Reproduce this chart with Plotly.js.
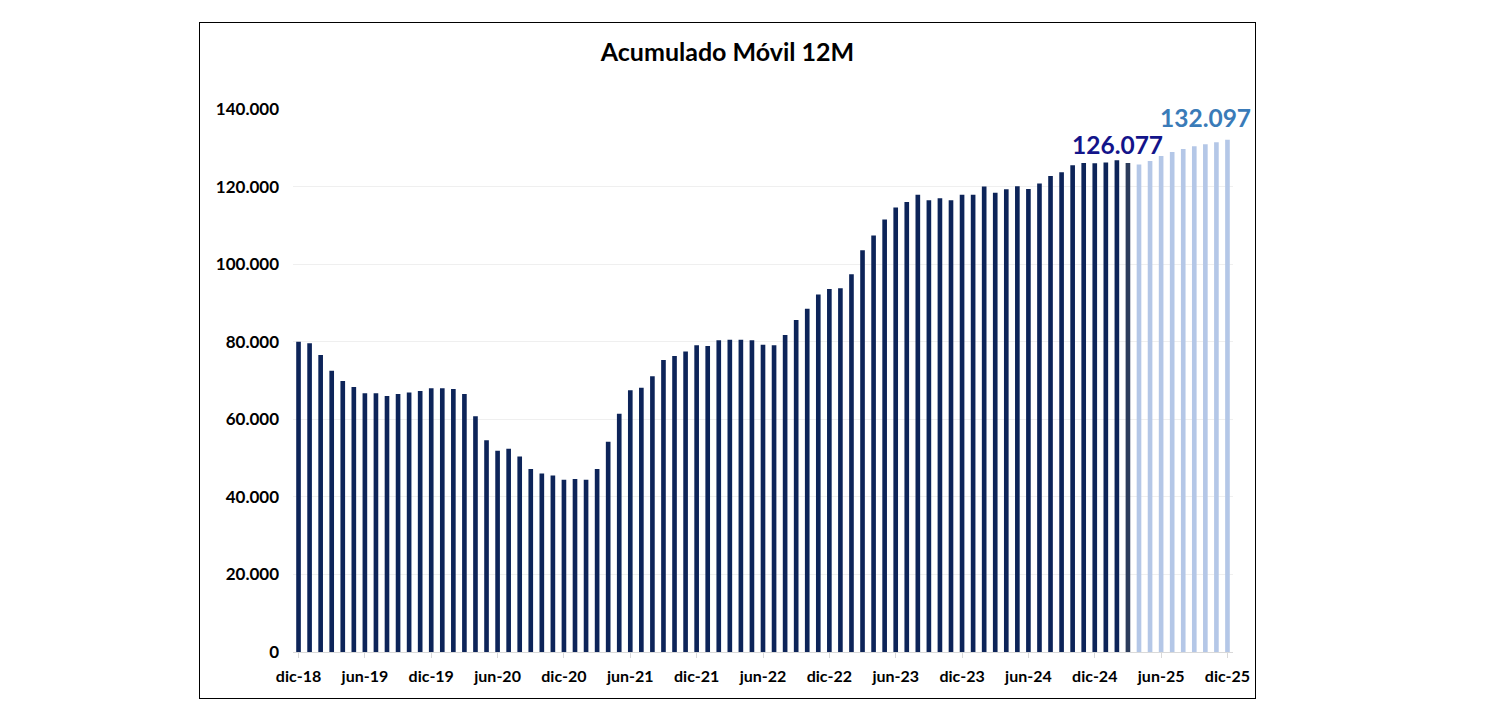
<!DOCTYPE html>
<html>
<head>
<meta charset="utf-8">
<script src="https://cdn.plot.ly/plotly-3.0.1.min.js"></script>
<style>
  html, body { margin: 0; padding: 0; background: #ffffff; }
  #frame { position: absolute; left: 199px; top: 22px; width: 1055px; height: 675px; border: 1px solid #000000; }
  #chart { width: 1055px; height: 675px; }
</style>
</head>
<body>
<div id="frame"><div id="chart"></div></div>
<script>
const months = [
  "dic-18",
  "ene-19","feb-19","mar-19","abr-19","may-19","jun-19","jul-19","ago-19","sep-19","oct-19","nov-19","dic-19",
  "ene-20","feb-20","mar-20","abr-20","may-20","jun-20","jul-20","ago-20","sep-20","oct-20","nov-20","dic-20",
  "ene-21","feb-21","mar-21","abr-21","may-21","jun-21","jul-21","ago-21","sep-21","oct-21","nov-21","dic-21",
  "ene-22","feb-22","mar-22","abr-22","may-22","jun-22","jul-22","ago-22","sep-22","oct-22","nov-22","dic-22",
  "ene-23","feb-23","mar-23","abr-23","may-23","jun-23","jul-23","ago-23","sep-23","oct-23","nov-23","dic-23",
  "ene-24","feb-24","mar-24","abr-24","may-24","jun-24","jul-24","ago-24","sep-24","oct-24","nov-24","dic-24",
  "ene-25","feb-25","mar-25","abr-25","may-25","jun-25","jul-25","ago-25","sep-25","oct-25","nov-25","dic-25"
];

// Actual 12-month rolling totals (dic-18 .. mar-25)
const actual = [
  80000,
  79600, 76600, 72500, 69900, 68300, 66700, 66700, 66000, 66500, 66900, 67300, 68000,
  68000, 67800, 66500, 60800, 54600, 51900, 52400, 50400, 47200, 46000, 45500, 44400,
  44600, 44400, 47200, 54200, 61400, 67500, 68100, 71100, 75300, 76300, 77500, 79100,
  78900, 80400, 80500, 80500, 80400, 79200, 79100, 81700, 85600, 88500, 92200, 93600,
  93800, 97400, 103600, 107400, 111500, 114600, 116000, 117900, 116500, 117000, 116500, 117900,
  117900, 120000, 118400, 119300, 120100, 119400, 120800, 122700, 123700, 125500, 126100, 126000,
  126200, 126800, 126077
];

// Projection (abr-25 .. dic-25)
const projected = [125700, 126600, 127900, 128900, 129700, 130400, 130900, 131400, 132097];

const tickVals = ["dic-18","jun-19","dic-19","jun-20","dic-20","jun-21","dic-21","jun-22","dic-22","jun-23","dic-23","jun-24","dic-24","jun-25","dic-25"];
const yTicks = [0, 20000, 40000, 60000, 80000, 100000, 120000, 140000];
const yTickText = ["0","20.000","40.000","60.000","80.000","100.000","120.000","140.000"];

const titleText = "Acumulado Móvil 12M";
const lastActualLabel = "126.077";
const lastProjLabel = "132.097";

const values = actual.concat(projected);
const nActual = actual.length;
const colors = values.map((v, i) => i < nActual - 1 ? "#0D2459" : (i === nActual - 1 ? "#2C3C5C" : "#B4C7E7"));

const FONT = "Lato, 'Open Sans', 'Liberation Sans', sans-serif";

const trace = {
  type: "bar",
  x: months,
  y: values,
  marker: { color: colors, line: { width: 0 } },
  hoverinfo: "x+y"
};

const layout = {
  width: 1055,
  height: 675,
  margin: { l: 92.5, r: 21.5, t: 86, b: 46 },
  paper_bgcolor: "#ffffff",
  plot_bgcolor: "#ffffff",
  separators: ",.",
  bargap: 0.58,
  showlegend: false,
  font: { family: FONT, color: "#000000" },
  title: {
    text: "<b>" + titleText + "</b>",
    font: { family: FONT, size: 25, color: "#000000" },
    x: 0.5, xanchor: "center",
    yref: "container", y: 1 - 29 / 675, yanchor: "middle"
  },
  xaxis: {
    type: "category",
    categoryorder: "array",
    categoryarray: months,
    range: [-0.5, months.length - 0.5],
    autorange: false,
    tickmode: "array",
    tickvals: tickVals,
    ticktext: tickVals.map(t => "<b>" + t + "</b>"),
    tickfont: { family: FONT, size: 16, color: "#000000" },
    ticks: "outside",
    ticklen: 5,
    tickcolor: "#D9D9D9",
    ticklabelstandoff: 5,
    showline: true,
    linecolor: "#D9D9D9",
    linewidth: 1,
    showgrid: false,
    zeroline: false,
    fixedrange: true
  },
  yaxis: {
    range: [0, 140000],
    autorange: false,
    tickmode: "array",
    tickvals: yTicks,
    ticktext: yTickText.map(t => "<b>" + t + "</b>"),
    tickfont: { family: FONT, size: 17, color: "#000000" },
    ticklabelstandoff: 13,
    showgrid: true,
    gridcolor: "#EFEFEF",
    gridwidth: 1,
    zeroline: false,
    showline: false,
    fixedrange: true
  },
  annotations: [
    {
      x: months[nActual - 1], y: actual[nActual - 1],
      xref: "x", yref: "y",
      text: "<b>" + lastActualLabel + "</b>",
      showarrow: false,
      xanchor: "center", yanchor: "bottom",
      xshift: -10, yshift: 2,
      font: { family: FONT, size: 24.5, color: "#13148A" }
    },
    {
      x: months[months.length - 1], y: projected[projected.length - 1],
      xref: "x", yref: "y",
      text: "<b>" + lastProjLabel + "</b>",
      showarrow: false,
      xanchor: "center", yanchor: "bottom",
      xshift: -22, yshift: 6,
      font: { family: FONT, size: 24.5, color: "#3A7BB8" }
    }
  ]
};

Plotly.newPlot("chart", [trace], layout, { displayModeBar: false, staticPlot: true });
</script>
</body>
</html>
